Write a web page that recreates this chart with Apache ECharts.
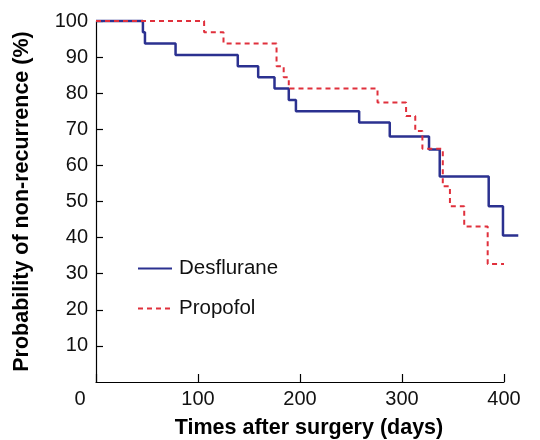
<!DOCTYPE html>
<html>
<head>
<meta charset="utf-8">
<script src="https://cdn.jsdelivr.net/npm/echarts@6/dist/echarts.min.js"></script>
<style>html,body{margin:0;padding:0;background:#fff}#c{width:540px;height:440px}</style>
</head>
<body>
<div id="c"></div>
<script>
var desTimes = [0, 46, 48, 78, 139, 159, 175, 189, 196, 258, 288, 326.5, 337, 385, 399, 414];
var desValues = [100, 96.9, 93.8, 90.6, 87.5, 84.4, 81.3, 78.1, 75.0, 71.9, 68.0, 64.4, 56.9, 48.7, 40.6, 40.6];
var proTimes = [0, 106, 125, 177, 184, 189, 276, 304, 313, 320, 340, 347, 361, 384, 400];
var proValues = [100, 96.9, 93.8, 87.5, 84.4, 81.3, 77.4, 73.7, 69.5, 64.6, 54.2, 48.7, 43.1, 32.7, 32.7];
var seriesNames = ['Desflurane', 'Propofol'];
var xTicks = [0, 100, 200, 300, 400];
var yTicks = [0, 10, 20, 30, 40, 50, 60, 70, 80, 90, 100];
var dataXMax = 415; // last follow-up time drawn beyond the axis end

function pairs(t, v) { return t.map(function (x, i) { return [x, v[i]]; }); }
var FONT = '"Liberation Sans", Arial, Helvetica, sans-serif';
var axisLeft = 96, axisRight = 36, axisW = 540 - axisLeft - axisRight;
var xMax = xTicks[xTicks.length - 1];
var dataRight = 540 - axisLeft - axisW * dataXMax / xMax;

var chart = echarts.init(document.getElementById('c'), null, {renderer: 'canvas'});
chart.setOption({
  animation: false,
  backgroundColor: '#ffffff',
  grid: [
    {left: axisLeft, right: axisRight, top: 21, bottom: 58, containLabel: false, outerBoundsMode: 'none'},
    {left: axisLeft, right: dataRight, top: 21, bottom: 58, containLabel: false, outerBoundsMode: 'none'}
  ],
  legend: {
    left: 137, top: 258, orient: 'vertical', itemGap: 19, padding: [0, 0, 0, 0],
    itemWidth: 34, itemHeight: 20,
    itemStyle: {opacity: 0},
    textStyle: {fontFamily: FONT, fontSize: 20.5, color: '#111', padding: [0, 0, 0, 2]},
    data: seriesNames
  },
  xAxis: [{
    gridIndex: 0, type: 'value', min: xTicks[0], max: xMax, interval: 100,
    name: 'Times after surgery (days)', nameLocation: 'middle', nameGap: 35,
    nameTextStyle: {fontFamily: FONT, fontSize: 21.5, fontWeight: 'bold', color: '#000', padding: [0, 0, 0, 18]},
    axisLine: {show: true, lineStyle: {color: '#000', width: 1.2}},
    axisTick: {show: true, inside: true, length: 8, lineStyle: {color: '#000', width: 1.2}},
    splitLine: {show: false},
    axisLabel: {
      fontFamily: FONT, fontSize: 20, color: '#111', margin: 7,
      formatter: function (v) { return v === 0 ? '{z|0}' : String(v); },
      rich: {z: {fontFamily: FONT, fontSize: 20, color: '#111', padding: [0, 32, 0, 0]}}
    }
  }, {
    gridIndex: 1, type: 'value', min: xTicks[0], max: dataXMax, show: false
  }],
  yAxis: [{
    gridIndex: 0, type: 'value', min: yTicks[0], max: yTicks[yTicks.length - 1], interval: 10,
    name: 'Probability of non-recurrence (%)', nameLocation: 'middle', nameGap: 63,
    nameTextStyle: {fontFamily: FONT, fontSize: 21.5, fontWeight: 'bold', color: '#000'},
    axisLine: {show: true, lineStyle: {color: '#000', width: 1.2}},
    axisTick: {show: true, inside: true, length: 7, lineStyle: {color: '#000', width: 1.2}},
    splitLine: {show: false},
    axisLabel: {fontFamily: FONT, fontSize: 20, color: '#111', margin: 8, showMinLabel: false,
      padding: [3, 0, 0, 0],
      formatter: function (v) { return v === 0 ? '' : String(v); }}
  }, {
    gridIndex: 1, type: 'value', min: yTicks[0], max: yTicks[yTicks.length - 1], show: false
  }],
  series: [
    {
      name: seriesNames[0], type: 'line', step: 'end', xAxisIndex: 1, yAxisIndex: 1,
      showSymbol: false, clip: false,
      data: pairs(desTimes, desValues),
      lineStyle: {color: '#2b3190', width: 2.5},
      itemStyle: {color: '#2b3190'}, z: 3
    },
    {
      name: seriesNames[1], type: 'line', step: 'end', xAxisIndex: 1, yAxisIndex: 1,
      showSymbol: false, clip: false,
      data: pairs(proTimes, proValues),
      lineStyle: {color: '#e0303c', width: 2, type: [5, 4]},
      itemStyle: {color: '#e0303c'}, z: 4
    }
  ]
});
</script>
</body>
</html>
